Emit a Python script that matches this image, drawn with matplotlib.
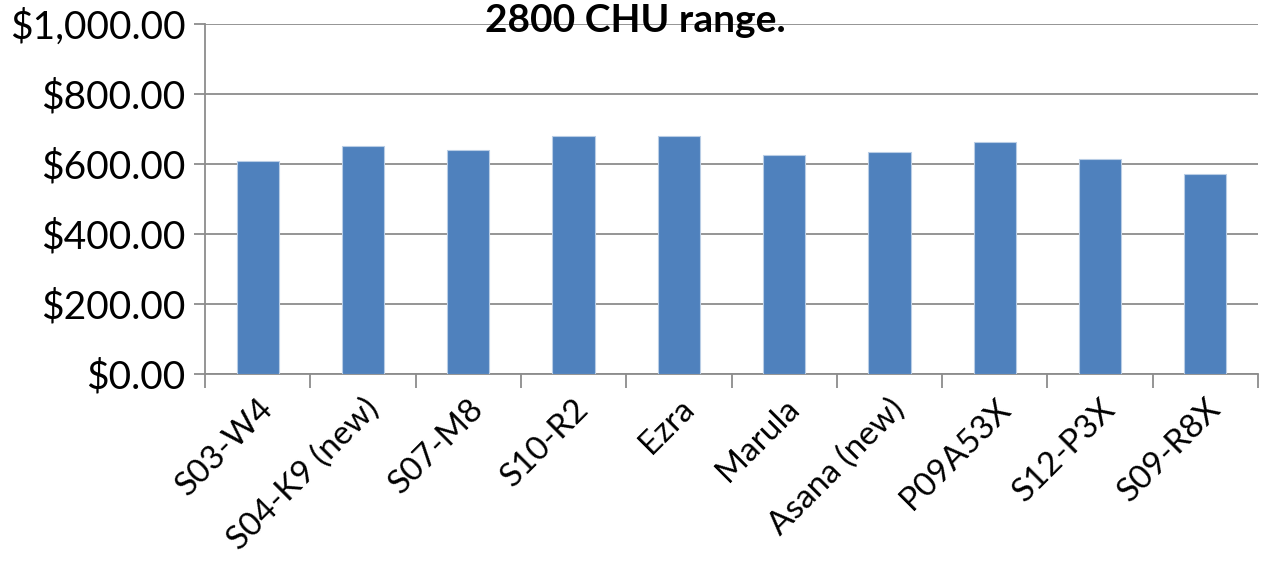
import matplotlib.pyplot as plt
import numpy as np
from matplotlib.ticker import FuncFormatter, FixedLocator

# values
hybrids = ['S03-W4', 'S04-K9 (new)', 'S07-M8', 'S10-R2', 'Ezra',
           'Marula', 'Asana (new)', 'P09A53X', 'S12-P3X', 'S09-R8X']
values = [609, 651, 639, 681, 681, 626, 635, 662, 613, 571]
y_ticks = [0, 200, 400, 600, 800, 1000]
title = '2800 CHU range.'

plt.rcParams['font.family'] = ['Lato', 'DejaVu Sans']

fig = plt.figure(figsize=(12.65, 5.66), dpi=100)
ax = fig.add_axes([205 / 1265, 1 - 374 / 566, (1258 - 205) / 1265, (374 - 24) / 566])

x = np.arange(len(hybrids))
ax.bar(x, values, width=0.4, color='#4F81BD', edgecolor='#B9CDE5', linewidth=0.8, zorder=3)

ax.set_xlim(-0.5, len(hybrids) - 0.5)
ax.set_ylim(0, 1000)
ax.set_yticks(y_ticks)
ax.yaxis.set_major_formatter(FuncFormatter(lambda v, p: '${:,.2f}'.format(v)))
ax.grid(axis='y', color='#8C8C8C', linewidth=1.3, zorder=0)

# category labels at the centers, tick marks between categories
ax.set_xticks(x)
ax.set_xticklabels(hybrids, rotation=45, ha='right', rotation_mode='anchor')
ax.xaxis.set_minor_locator(FixedLocator(np.arange(-0.5, len(hybrids), 1.0)))
ax.tick_params(axis='x', which='major', length=0, pad=14, labelsize=24)
ax.tick_params(axis='x', which='minor', length=10, width=1.3, color='#8C8C8C', direction='out')
ax.tick_params(axis='y', length=8, width=1.3, color='#8C8C8C', labelsize=28, pad=6)

for s in ['top', 'right']:
    ax.spines[s].set_visible(False)
for s in ['left', 'bottom']:
    ax.spines[s].set_color('#8C8C8C')
    ax.spines[s].set_linewidth(1.3)

fig.text(635 / 1265, 1 - 21 / 566, title, ha='center', va='center',
         fontsize=28, fontweight='bold')

fig.savefig('out.png', dpi=100)
